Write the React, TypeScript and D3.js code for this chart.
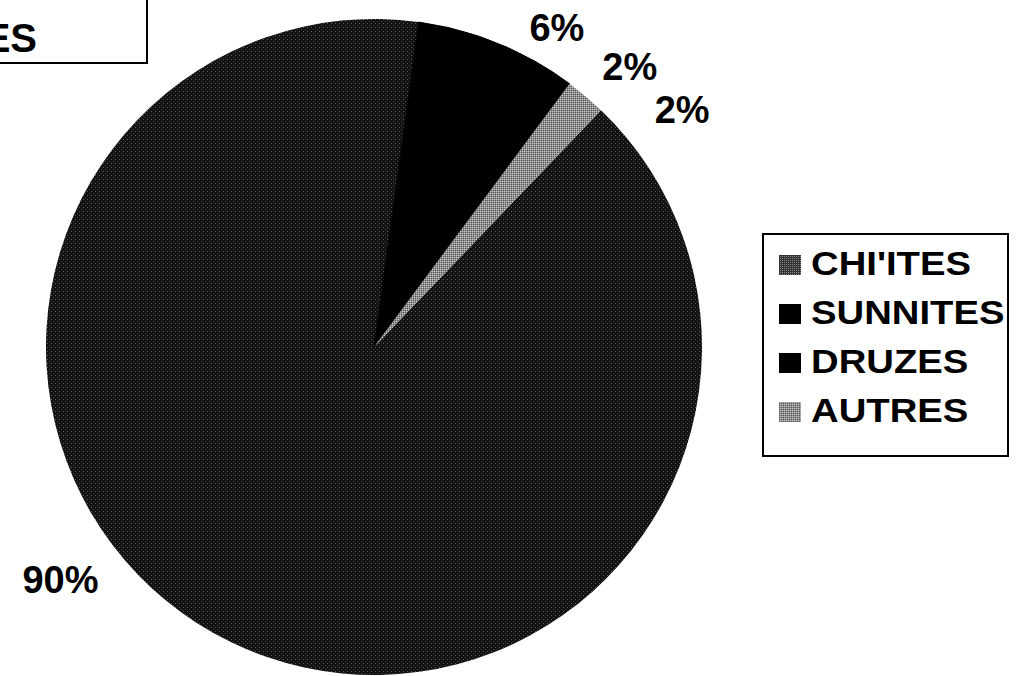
import React, { useEffect, useRef } from "react";
import * as d3 from "d3";

// data
const categories = ["CHI'ITES", "SUNNITES", "DRUZES", "AUTRES"];
const shares = [90, 6, 2, 2];
const pctLabels = ["90%", "6%", "2%", "2%"];
const titleText = "ES";

// layout (not data)
const W = 1032;
const H = 676;
const cx = 374;
const cy = 347;
const R = 328;
const boundaryDeg = 7.8; // where the black slices begin, clockwise from 12 o'clock
// label anchors given in polar form around the pie centre: [angle deg, radius]
const labelPolar: [number, number][] = [
  [233.5, 390],
  [29.8, 368],
  [42.3, 380],
  [52.4, 389],
];
const FONT = "'Liberation Sans', Arial, Helvetica, sans-serif";

export default function App() {
  const svgRef = useRef<SVGSVGElement | null>(null);

  useEffect(() => {
    if (!svgRef.current) return;
    const svg = d3.select(svgRef.current);
    svg.selectAll("*").remove();

    const defs = svg.append("defs");
    // speckled dark grey for the big slice
    const pc = defs
      .append("pattern")
      .attr("id", "pat-chiites")
      .attr("patternUnits", "userSpaceOnUse")
      .attr("width", 4)
      .attr("height", 4);
    pc.append("rect").attr("width", 4).attr("height", 4).attr("fill", "#121212");
    pc.append("rect").attr("x", 1).attr("y", 0).attr("width", 1).attr("height", 1).attr("fill", "#5e5e5e");
    pc.append("rect").attr("x", 3).attr("y", 2).attr("width", 1).attr("height", 1).attr("fill", "#444");
    // legend swatch for the big slice is a lighter checker
    const ps = defs
      .append("pattern")
      .attr("id", "pat-chiites-sw")
      .attr("patternUnits", "userSpaceOnUse")
      .attr("width", 2)
      .attr("height", 2);
    ps.append("rect").attr("width", 2).attr("height", 2).attr("fill", "#333");
    ps.append("rect").attr("width", 1).attr("height", 1).attr("fill", "#8a8a8a");
    // lighter checker for "autres"
    const pa = defs
      .append("pattern")
      .attr("id", "pat-autres")
      .attr("patternUnits", "userSpaceOnUse")
      .attr("width", 2)
      .attr("height", 2);
    pa.append("rect").attr("width", 2).attr("height", 2).attr("fill", "#8c8c8c");
    pa.append("rect").attr("width", 1).attr("height", 1).attr("fill", "#c8c8c8");
    pa.append("rect").attr("x", 1).attr("y", 1).attr("width", 1).attr("height", 1).attr("fill", "#5a5a5a");

    const fills = ["url(#pat-chiites)", "#000", "#000", "url(#pat-autres)"];
    const swatches = ["url(#pat-chiites-sw)", "#000", "#000", "url(#pat-autres)"];

    svg.append("rect").attr("width", W).attr("height", H).attr("fill", "#fff");

    // pie
    const rad = (deg: number) => (deg * Math.PI) / 180;
    const total = d3.sum(shares);
    const start = rad(boundaryDeg) - (2 * Math.PI * shares[0]) / total;
    const pie = d3
      .pie<number>()
      .sort(null)
      .value((d) => d)
      .startAngle(start)
      .endAngle(start + 2 * Math.PI);
    const arc = d3.arc<d3.PieArcDatum<number>>().innerRadius(0).outerRadius(R);

    const g = svg.append("g").attr("transform", `translate(${cx},${cy})`);
    g.selectAll("path")
      .data(pie(shares))
      .enter()
      .append("path")
      .attr("d", arc as any)
      .attr("fill", (_d, i) => fills[i])
      .attr("stroke", (_d, i) => (fills[i] === "#000" ? "#000" : "none"))
      .attr("stroke-width", 1);

    // percentage labels
    pctLabels.forEach((t, i) => {
      const [a, r] = labelPolar[i];
      const x = Math.sin(rad(a)) * r;
      const y = -Math.cos(rad(a)) * r;
      g.append("text")
        .attr("x", x)
        .attr("y", y + 38 * 0.358)
        .attr("text-anchor", "middle")
        .attr("font-family", FONT)
        .attr("font-weight", "bold")
        .attr("font-size", 38)
        .attr("fill", "#000")
        .text(t);
    });

    // title box, cut by the page edge as in the scan
    svg
      .append("rect")
      .attr("x", -4)
      .attr("y", -4)
      .attr("width", 151)
      .attr("height", 67)
      .attr("fill", "#fff")
      .attr("stroke", "#000")
      .attr("stroke-width", 2);
    svg
      .append("text")
      .attr("x", 37)
      .attr("y", 52)
      .attr("text-anchor", "end")
      .attr("font-family", FONT)
      .attr("font-weight", "bold")
      .attr("font-size", 40)
      .text(titleText);

    // legend
    const lg = svg.append("g");
    lg.append("rect")
      .attr("x", 763)
      .attr("y", 234)
      .attr("width", 245)
      .attr("height", 222)
      .attr("fill", "#fff")
      .attr("stroke", "#000")
      .attr("stroke-width", 2);
    categories.forEach((c, i) => {
      const base = 275 + i * 49;
      lg.append("rect")
        .attr("x", 779)
        .attr("y", base - 20)
        .attr("width", 22)
        .attr("height", 20)
        .attr("fill", swatches[i]);
      lg.append("text")
        .attr("transform", `translate(811,${base}) scale(1.16,1)`)
        .attr("font-family", FONT)
        .attr("font-weight", "bold")
        .attr("font-size", 33)
        .text(c);
    });
  }, []);

  return (
    <svg
      ref={svgRef}
      width={W}
      height={H}
      style={{ position: "absolute", left: 0, top: 0, display: "block" }}
    />
  );
}
